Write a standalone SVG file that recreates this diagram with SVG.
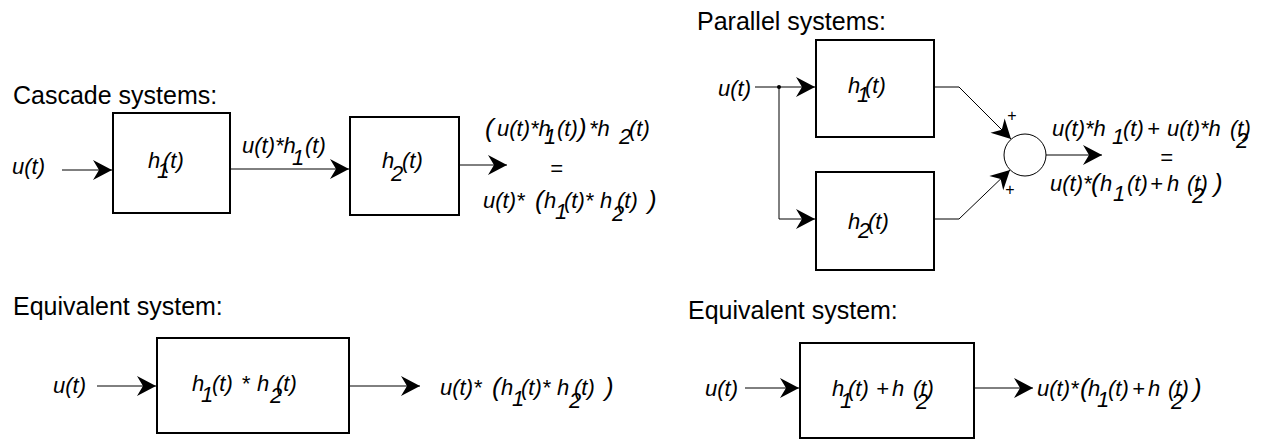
<svg xmlns="http://www.w3.org/2000/svg" width="1270" height="439" viewBox="0 0 1270 439">
<style>
text{font-family:"Liberation Sans",Arial,sans-serif;fill:#000}
.hdr{font-size:25px}
.l{font-size:22px;font-style:italic}
.s{font-size:22px;font-style:italic}
.b{font-size:26px;font-style:italic}
.p{font-size:16px}
.box{fill:#fff;stroke:#000;stroke-width:2}
.ln{fill:none;stroke:#000;stroke-width:1}
</style>
<defs>
<marker id="ah" viewBox="-22 -12 24 24" markerWidth="24" markerHeight="24" refX="0" refY="0" orient="auto" markerUnits="userSpaceOnUse">
<path d="M0,0 L-19,-10 L-13,0 L-19,10 Z" fill="#000"/>
</marker>
</defs>
<rect width="1270" height="439" fill="#fff"/>

<text class="hdr" x="13" y="104">Cascade systems:</text>
<text class="hdr" x="697" y="30">Parallel systems:</text>
<text class="hdr" x="13" y="315">Equivalent system:</text>
<text class="hdr" x="688" y="319">Equivalent system:</text>

<g id="connectors">
<line class="ln" x1="62" y1="170" x2="112" y2="170" marker-end="url(#ah)"/>
<line class="ln" x1="230" y1="169" x2="349" y2="169" marker-end="url(#ah)"/>
<line class="ln" x1="459" y1="165" x2="507" y2="165" marker-end="url(#ah)"/>
<polyline class="ln" points="755,87 815,87" marker-end="url(#ah)"/>
<polyline class="ln" points="779,87 779,219 815,219" marker-end="url(#ah)"/>
<polyline class="ln" points="934,87 959,87 1011,139" marker-end="url(#ah)"/>
<polyline class="ln" points="934,219 959,219 1010,170" marker-end="url(#ah)"/>
<line class="ln" x1="1046" y1="155" x2="1102" y2="155" marker-end="url(#ah)"/>
<circle cx="779" cy="87" r="2" fill="#000"/>
<line class="ln" x1="97" y1="386" x2="156" y2="386" marker-end="url(#ah)"/>
<line class="ln" x1="349" y1="386" x2="420" y2="386" marker-end="url(#ah)"/>
<line class="ln" x1="745" y1="388" x2="799" y2="388" marker-end="url(#ah)"/>
<line class="ln" x1="974" y1="388" x2="1033" y2="388" marker-end="url(#ah)"/>
</g>

<g id="cascade-input"><text class="l" x="12" y="174">u(t)</text></g>
<g id="cascade-h1">
<rect class="box" x="113" y="113" width="117" height="100"/>
<text class="l" x="148" y="168">h</text><text class="s" x="157" y="178">1</text><text class="l" x="163" y="168">(t)</text>
</g>
<g id="cascade-mid-label">
<text class="l" x="242" y="153">u(t)*h</text><text class="s" x="292" y="165">1</text><text class="l" x="305" y="153">(t)</text>
</g>
<g id="cascade-h2">
<rect class="box" x="350" y="117" width="109" height="98"/>
<text class="l" x="382" y="168">h</text><text class="s" x="391" y="181">2</text><text class="l" x="402" y="168">(t)</text>
</g>
<g id="cascade-output">
<text class="b" x="485" y="137">(</text>
<text class="l" x="497" y="136">u(t)*h</text><text class="s" x="544" y="144">1</text><text class="l" x="557" y="136">(t)</text>
<text class="b" x="578" y="137">)</text>
<text class="l" x="589" y="136">*h</text><text class="s" x="619" y="144">2</text><text class="l" x="629" y="136">(t)</text>
<text class="l" x="550" y="176">=</text>
<text class="l" x="483" y="208">u(t)*</text>
<text class="b" x="535" y="209">(</text>
<text class="l" x="544" y="208">h</text><text class="s" x="555" y="219">1</text><text class="l" x="564" y="208">(t)*</text><text class="l" x="600" y="208">h</text>
<text class="s" x="612" y="221">2</text><text class="l" x="617" y="208">(t)</text>
<text class="b" x="648" y="209">)</text>
</g>

<g id="parallel-input"><text class="l" x="718" y="96">u(t)</text></g>
<g id="parallel-h1">
<rect class="box" x="816" y="40" width="118" height="97"/>
<text class="l" x="848" y="93">h</text><text class="s" x="857" y="102">1</text><text class="l" x="865" y="93">(t)</text>
</g>
<g id="parallel-h2">
<rect class="box" x="816" y="172" width="118" height="98"/>
<text class="l" x="848" y="229">h</text><text class="s" x="858" y="238">2</text><text class="l" x="868" y="229">(t)</text>
</g>
<g id="sum">
<circle cx="1025" cy="155" r="21" fill="#fff" stroke="#000" stroke-width="1"/>
<text class="p" x="1012" y="121" text-anchor="middle">+</text>
<text class="p" x="1010" y="195" text-anchor="middle">+</text>
</g>
<g id="parallel-output">
<text class="l" x="1052" y="136">u(t)*h</text><text class="s" x="1112" y="144">1</text><text class="l" x="1123" y="136">(t)</text>
<text class="l" x="1147" y="136">+</text>
<text class="l" x="1167" y="136">u(t)*h</text>
<text class="l" x="1230" y="136">(t)</text><text class="s" x="1236" y="148">2</text>
<text class="l" x="1160" y="165">=</text>
<text class="l" x="1050" y="191">u(t)*</text>
<text class="b" x="1091" y="192">(</text>
<text class="l" x="1100" y="191">h</text><text class="s" x="1113" y="201">1</text><text class="l" x="1127" y="191">(t)</text>
<text class="l" x="1150" y="191">+</text>
<text class="l" x="1167" y="191">h</text>
<text class="l" x="1187" y="191">(t)</text><text class="s" x="1192" y="203">2</text>
<text class="b" x="1214" y="192">)</text>
</g>

<g id="eq1-input"><text class="l" x="53" y="393">u(t)</text></g>
<g id="eq1-box">
<rect class="box" x="157" y="338" width="192" height="95"/>
<text class="l" x="192" y="391">h</text><text class="s" x="201" y="402">1</text><text class="l" x="212" y="391">(t)</text>
<text class="l" x="241" y="391">*</text>
<text class="l" x="257" y="391">h</text><text class="s" x="270" y="403">2</text><text class="l" x="276" y="391">(t)</text>
</g>
<g id="eq1-output">
<text class="l" x="440" y="395">u(t)*</text>
<text class="b" x="492" y="396">(</text>
<text class="l" x="501" y="395">h</text><text class="s" x="512" y="406">1</text><text class="l" x="521" y="395">(t)*</text><text class="l" x="557" y="395">h</text>
<text class="s" x="569" y="408">2</text><text class="l" x="574" y="395">(t)</text>
<text class="b" x="605" y="396">)</text>
</g>

<g id="eq2-input"><text class="l" x="705" y="396">u(t)</text></g>
<g id="eq2-box">
<rect class="box" x="800" y="343" width="174" height="95"/>
<text class="l" x="832" y="396">h</text><text class="s" x="840" y="408">1</text><text class="l" x="848" y="396">(t)</text>
<text class="l" x="876" y="396">+</text>
<text class="l" x="892" y="396">h</text>
<text class="l" x="913" y="396">(t)</text><text class="s" x="916" y="409">2</text>
</g>
<g id="eq2-output">
<text class="l" x="1037" y="396">u(t)*</text>
<text class="b" x="1080" y="397">(</text>
<text class="l" x="1088" y="396">h</text><text class="s" x="1097" y="407">1</text><text class="l" x="1108" y="396">(t)</text>
<text class="l" x="1132" y="396">+</text>
<text class="l" x="1148" y="396">h</text>
<text class="l" x="1168" y="396">(t)</text><text class="s" x="1171" y="409">2</text>
<text class="b" x="1193" y="397">)</text>
</g>
</svg>
